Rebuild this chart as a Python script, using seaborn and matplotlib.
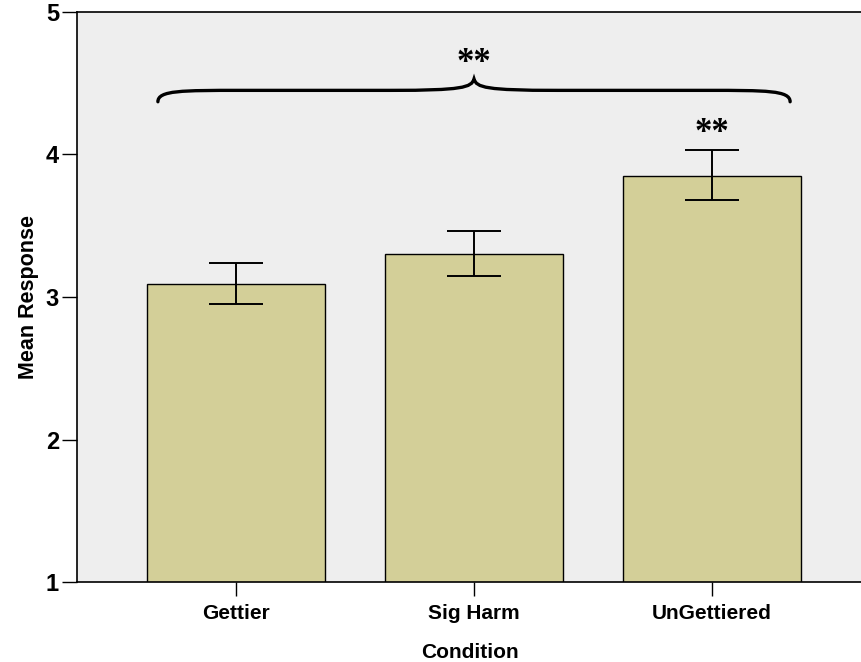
import numpy as np
import pandas as pd
import seaborn as sns
import matplotlib.pyplot as plt
from matplotlib.path import Path
from matplotlib.patches import PathPatch

# Data
conditions = ['Gettier', 'Sig Harm', 'UnGettiered']
means = [3.09, 3.30, 3.85]
err_low = [2.95, 3.15, 3.68]
err_high = [3.24, 3.46, 4.03]

df = pd.DataFrame({'Condition': conditions, 'Mean Response': means})

sns.set_style('white')
plt.rcParams['font.family'] = ['Liberation Sans', 'DejaVu Sans']
plt.rcParams['text.color'] = 'black'
plt.rcParams['axes.labelcolor'] = 'black'
plt.rcParams['xtick.color'] = 'black'
plt.rcParams['ytick.color'] = 'black'

fig = plt.figure(figsize=(8.62, 6.62), dpi=100)
ax = fig.add_axes([0.0893, 0.1208, 0.9107, 0.8611])
ax.set_facecolor('#eeeeee')

sns.barplot(data=df, x='Condition', y='Mean Response', color='#d3cf98',
            saturation=1, edgecolor='black', linewidth=1, width=0.75,
            errorbar=None, ax=ax)

# error bars
x = np.arange(len(conditions))
yerr = [np.array(means) - np.array(err_low), np.array(err_high) - np.array(means)]
ax.errorbar(x, means, yerr=yerr, fmt='none', ecolor='black', elinewidth=1.4,
            capsize=19.5, capthick=1.4)

ax.set_ylim(1, 5)
ax.set_xlim(-0.668, 2.63)
ax.set_yticks([1, 2, 3, 4, 5])
ax.tick_params(axis='y', length=11, width=1, direction='out', labelsize=17, pad=2)
ax.tick_params(axis='x', length=10, width=1, direction='out', labelsize=15, pad=6)
ax.tick_params(left=True, bottom=True)
for lab in ax.get_yticklabels() + ax.get_xticklabels():
    lab.set_fontweight('bold')

ax.set_xlabel('Condition', fontsize=15, fontweight='bold', labelpad=14)
ax.set_ylabel('Mean Response', fontsize=15.5, fontweight='bold', labelpad=5)

for side in ['left', 'top', 'bottom']:
    ax.spines[side].set_color('black')
    ax.spines[side].set_linewidth(1.2)
ax.spines['right'].set_visible(False)

# curly brace spanning all conditions
bx0, bx1, bmid = -0.328, 2.328, 1.0
y_tip, y_flat, y_peak = 4.37, 4.45, 4.53
verts = [
    (bx0, y_tip),
    (bx0, y_flat), (bx0 + 0.1, y_flat), (bx0 + 0.35, y_flat),
    (bmid - 0.35, y_flat),
    (bmid - 0.05, y_flat), (bmid - 0.01, y_flat + 0.02), (bmid, y_peak),
    (bmid + 0.01, y_flat + 0.02), (bmid + 0.05, y_flat), (bmid + 0.35, y_flat),
    (bx1 - 0.35, y_flat),
    (bx1 - 0.1, y_flat), (bx1, y_flat), (bx1, y_tip),
]
codes = [Path.MOVETO,
         Path.CURVE4, Path.CURVE4, Path.CURVE4,
         Path.LINETO,
         Path.CURVE4, Path.CURVE4, Path.CURVE4,
         Path.CURVE4, Path.CURVE4, Path.CURVE4,
         Path.LINETO,
         Path.CURVE4, Path.CURVE4, Path.CURVE4]
ax.add_patch(PathPatch(Path(verts, codes), facecolor='none', edgecolor='black',
                       linewidth=2.4, capstyle='round'))

star_font = ['Liberation Serif', 'DejaVu Serif']
ax.text(bmid, 4.64, '**', ha='center', va='center', fontsize=25,
        fontweight='bold', family=star_font)
ax.text(2, 4.15, '**', ha='center', va='center', fontsize=25,
        fontweight='bold', family=star_font)

fig.savefig('out.png', dpi=100)
